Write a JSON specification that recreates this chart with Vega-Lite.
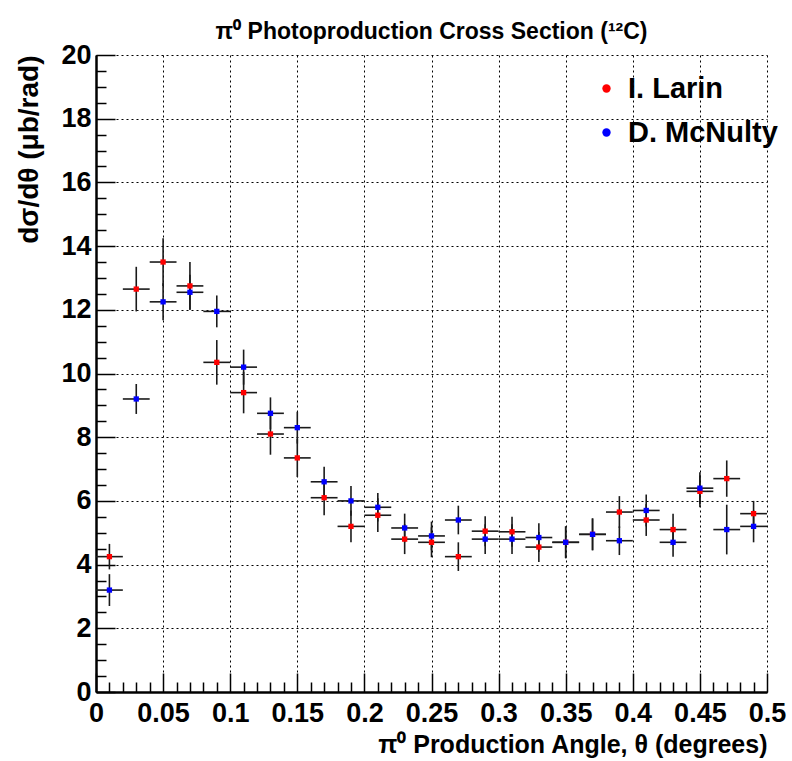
{
  "$schema": "https://vega.github.io/schema/vega-lite/v6.json",
  "width": 671,
  "height": 637,
  "autosize": {"type": "none"},
  "padding": {"left": 96, "top": 55, "right": 25, "bottom": 69},
  "background": "white",
  "config": {"view": {"stroke": null}, "font": "Liberation Sans"},
  "title": {
    "text": "π⁰ Photoproduction Cross Section (¹²C)",
    "font": "Liberation Sans",
    "fontSize": 23,
    "fontWeight": "bold",
    "color": "black",
    "anchor": "middle",
    "offset": -3
  },
  "data": {
    "values": [
      {"series": "I. Larin", "x": 0.01, "y": 4.25, "ey": 0.4, "ex": 0.01},
      {"series": "I. Larin", "x": 0.03, "y": 12.65, "ey": 0.7, "ex": 0.01},
      {"series": "I. Larin", "x": 0.05, "y": 13.5, "ey": 0.75, "ex": 0.01},
      {"series": "I. Larin", "x": 0.07, "y": 12.75, "ey": 0.75, "ex": 0.01},
      {"series": "I. Larin", "x": 0.09, "y": 10.35, "ey": 0.7, "ex": 0.01},
      {"series": "I. Larin", "x": 0.11, "y": 9.4, "ey": 0.65, "ex": 0.01},
      {"series": "I. Larin", "x": 0.13, "y": 8.1, "ey": 0.65, "ex": 0.01},
      {"series": "I. Larin", "x": 0.15, "y": 7.35, "ey": 0.6, "ex": 0.01},
      {"series": "I. Larin", "x": 0.17, "y": 6.1, "ey": 0.55, "ex": 0.01},
      {"series": "I. Larin", "x": 0.19, "y": 5.2, "ey": 0.5, "ex": 0.01},
      {"series": "I. Larin", "x": 0.21, "y": 5.55, "ey": 0.53, "ex": 0.01},
      {"series": "I. Larin", "x": 0.23, "y": 4.8, "ey": 0.47, "ex": 0.01},
      {"series": "I. Larin", "x": 0.25, "y": 4.7, "ey": 0.47, "ex": 0.01},
      {"series": "I. Larin", "x": 0.27, "y": 4.25, "ey": 0.45, "ex": 0.01},
      {"series": "I. Larin", "x": 0.29, "y": 5.05, "ey": 0.47, "ex": 0.01},
      {"series": "I. Larin", "x": 0.31, "y": 5.03, "ey": 0.47, "ex": 0.01},
      {"series": "I. Larin", "x": 0.33, "y": 4.55, "ey": 0.47, "ex": 0.01},
      {"series": "I. Larin", "x": 0.35, "y": 4.7, "ey": 0.5, "ex": 0.01},
      {"series": "I. Larin", "x": 0.37, "y": 4.95, "ey": 0.5, "ex": 0.01},
      {"series": "I. Larin", "x": 0.39, "y": 5.65, "ey": 0.5, "ex": 0.01},
      {"series": "I. Larin", "x": 0.41, "y": 5.4, "ey": 0.5, "ex": 0.01},
      {"series": "I. Larin", "x": 0.43, "y": 5.1, "ey": 0.5, "ex": 0.01},
      {"series": "I. Larin", "x": 0.45, "y": 6.3, "ey": 0.5, "ex": 0.01},
      {"series": "I. Larin", "x": 0.47, "y": 6.7, "ey": 0.57, "ex": 0.01},
      {"series": "I. Larin", "x": 0.49, "y": 5.6, "ey": 0.4, "ex": 0.01},
      {"series": "D. McNulty", "x": 0.01, "y": 3.2, "ey": 0.5, "ex": 0.01},
      {"series": "D. McNulty", "x": 0.03, "y": 9.2, "ey": 0.47, "ex": 0.01},
      {"series": "D. McNulty", "x": 0.05, "y": 12.25, "ey": 0.58, "ex": 0.01},
      {"series": "D. McNulty", "x": 0.07, "y": 12.55, "ey": 0.55, "ex": 0.01},
      {"series": "D. McNulty", "x": 0.09, "y": 11.95, "ey": 0.5, "ex": 0.01},
      {"series": "D. McNulty", "x": 0.11, "y": 10.2, "ey": 0.55, "ex": 0.01},
      {"series": "D. McNulty", "x": 0.13, "y": 8.75, "ey": 0.5, "ex": 0.01},
      {"series": "D. McNulty", "x": 0.15, "y": 8.3, "ey": 0.5, "ex": 0.01},
      {"series": "D. McNulty", "x": 0.17, "y": 6.6, "ey": 0.47, "ex": 0.01},
      {"series": "D. McNulty", "x": 0.19, "y": 6.0, "ey": 0.47, "ex": 0.01},
      {"series": "D. McNulty", "x": 0.21, "y": 5.8, "ey": 0.45, "ex": 0.01},
      {"series": "D. McNulty", "x": 0.23, "y": 5.15, "ey": 0.45, "ex": 0.01},
      {"series": "D. McNulty", "x": 0.25, "y": 4.9, "ey": 0.45, "ex": 0.01},
      {"series": "D. McNulty", "x": 0.27, "y": 5.4, "ey": 0.45, "ex": 0.01},
      {"series": "D. McNulty", "x": 0.29, "y": 4.8, "ey": 0.47, "ex": 0.01},
      {"series": "D. McNulty", "x": 0.31, "y": 4.8, "ey": 0.47, "ex": 0.01},
      {"series": "D. McNulty", "x": 0.33, "y": 4.85, "ey": 0.45, "ex": 0.01},
      {"series": "D. McNulty", "x": 0.35, "y": 4.7, "ey": 0.5, "ex": 0.01},
      {"series": "D. McNulty", "x": 0.37, "y": 4.95, "ey": 0.5, "ex": 0.01},
      {"series": "D. McNulty", "x": 0.39, "y": 4.75, "ey": 0.45, "ex": 0.01},
      {"series": "D. McNulty", "x": 0.41, "y": 5.7, "ey": 0.5, "ex": 0.01},
      {"series": "D. McNulty", "x": 0.43, "y": 4.7, "ey": 0.45, "ex": 0.01},
      {"series": "D. McNulty", "x": 0.45, "y": 6.4, "ey": 0.5, "ex": 0.01},
      {"series": "D. McNulty", "x": 0.47, "y": 5.1, "ey": 0.78, "ex": 0.01},
      {"series": "D. McNulty", "x": 0.49, "y": 5.2, "ey": 0.5, "ex": 0.01}
    ]
  },
  "encoding": {
    "x": {
      "field": "x", "type": "quantitative",
      "scale": {"domain": [0, 0.5], "nice": false, "zero": false},
      "axis": {
        "values": [0,0.01,0.02,0.03,0.04,0.05,0.06,0.07,0.08,0.09,0.1,0.11,0.12,0.13,0.14,0.15,0.16,0.17,0.18,0.19,0.2,0.21,0.22,0.23,0.24,0.25,0.26,0.27,0.28,0.29,0.3,0.31,0.32,0.33,0.34,0.35,0.36,0.37,0.38,0.39,0.4,0.41,0.42,0.43,0.44,0.45,0.46,0.47,0.48,0.49,0.5],
        "labelExpr": "abs(datum.value*20 - round(datum.value*20)) < 1e-6 ? toString(round(datum.value*100)/100) : ''",
        "labelFont": "Liberation Sans",
        "labelFontWeight": "bold",
        "labelFontSize": 27,
        "labelColor": "black",
        "labelPadding": 27,
        "labelOverlap": false,
        "labelFlush": false,
        "tickColor": "black",
        "tickWidth": 1.5,
        "tickSize": {"condition": {"test": "abs(datum.value*20 - round(datum.value*20)) < 1e-6", "value": -19}, "value": -10},
        "domainColor": "black",
        "domainWidth": 2.5,
        "grid": true,
        "gridColor": "black",
        "gridDash": [2, 3],
        "gridWidth": 1,
        "gridOpacity": {"condition": {"test": "abs(datum.value*20 - round(datum.value*20)) < 1e-6", "value": 1}, "value": 0},
        "title": "π⁰ Production Angle, θ (degrees)",
        "titleFont": "Liberation Sans",
        "titleFontWeight": "bold",
        "titleFontSize": 25,
        "titleColor": "black",
        "titleAnchor": "end",
        "titlePadding": -3
      }
    },
    "y": {
      "field": "y", "type": "quantitative",
      "scale": {"domain": [0, 20], "nice": false},
      "axis": {
        "values": [0,0.5,1,1.5,2,2.5,3,3.5,4,4.5,5,5.5,6,6.5,7,7.5,8,8.5,9,9.5,10,10.5,11,11.5,12,12.5,13,13.5,14,14.5,15,15.5,16,16.5,17,17.5,18,18.5,19,19.5,20],
        "labelExpr": "datum.value % 2 == 0 ? toString(datum.value) : ''",
        "labelFont": "Liberation Sans",
        "labelFontWeight": "bold",
        "labelFontSize": 27,
        "labelColor": "black",
        "labelPadding": 24,
        "labelOverlap": false,
        "labelFlush": false,
        "tickColor": "black",
        "tickWidth": 1.5,
        "tickSize": {"condition": {"test": "datum.value % 2 == 0", "value": -19}, "value": -10},
        "domainColor": "black",
        "domainWidth": 2.5,
        "grid": true,
        "gridColor": "black",
        "gridDash": [2, 3],
        "gridWidth": 1,
        "gridOpacity": {"condition": {"test": "datum.value % 2 == 0", "value": 1}, "value": 0},
        "title": "dσ/dθ (μb/rad)",
        "titleFont": "Liberation Sans",
        "titleFontWeight": "bold",
        "titleFontSize": 28,
        "titleColor": "black",
        "titleAnchor": "end",
        "titlePadding": 17
      }
    }
  },
  "layer": [
    {
      "mark": {"type": "errorbar", "rule": {"color": "#1a1a1a", "strokeWidth": 1.6}},
      "encoding": {
        "yError": {"field": "ey"}
      }
    },
    {
      "mark": {"type": "errorbar", "rule": {"color": "#1a1a1a", "strokeWidth": 1.6}},
      "encoding": {
        "xError": {"field": "ex"}
      }
    },
    {
      "mark": {"type": "square", "filled": true, "size": 28, "opacity": 1},
      "encoding": {
        "color": {
          "field": "series", "type": "nominal",
          "scale": {"domain": ["I. Larin", "D. McNulty"], "range": ["#ff0000", "#0000ff"]},
          "legend": {
            "title": null,
            "orient": "none",
            "legendX": 496,
            "legendY": 19,
            "symbolType": "circle",
            "symbolSize": 70,
            "symbolStrokeWidth": 0,
            "labelFont": "Liberation Sans",
            "labelFontWeight": "bold",
            "labelFontSize": 29,
            "labelOffset": 7,
            "rowPadding": 14,
            "encode": {
              "labels": {"update": {
                "fontSize": {"signal": "datum.value === 'I. Larin' ? 29 : 19"},
                "fill": {"signal": "datum.value === 'I. Larin' ? '#ff0000' : '#0000ff'"}
              }},
              "symbols": {"update": {
                "size": {"signal": "datum.value === 'I. Larin' ? 80 : 50"}
              }}
            }
          }
        }
      }
    }
  ]
}
